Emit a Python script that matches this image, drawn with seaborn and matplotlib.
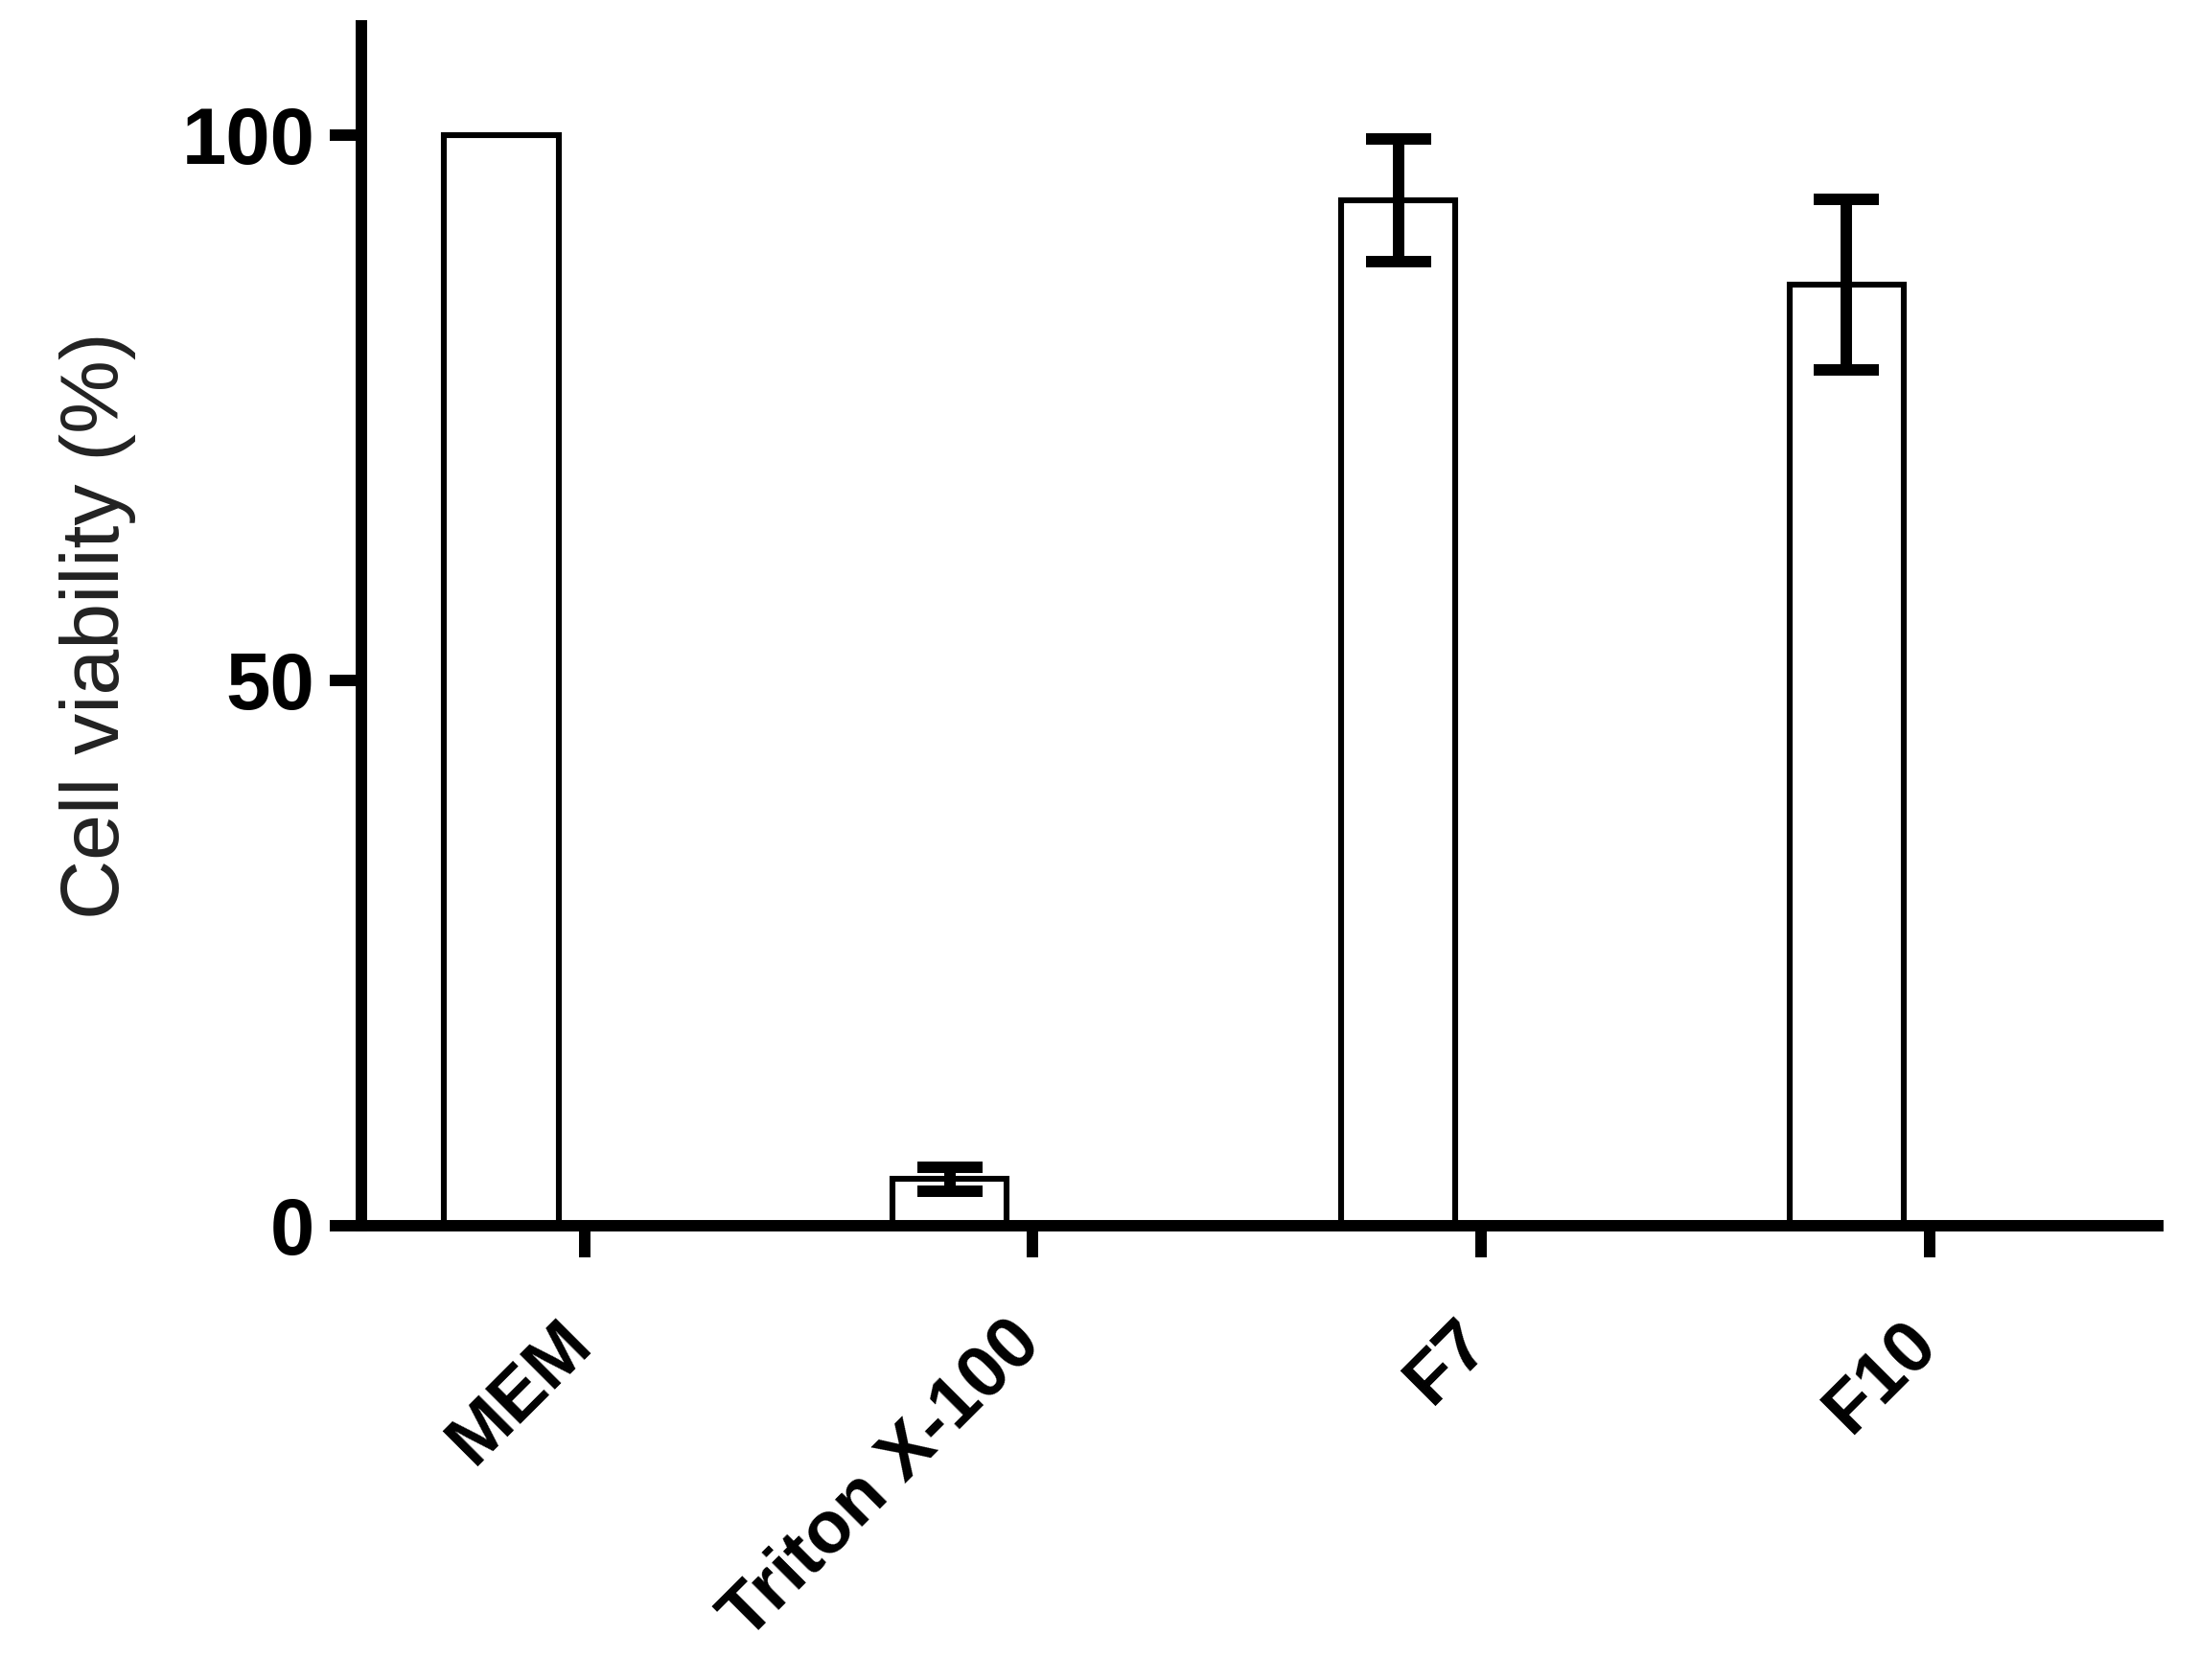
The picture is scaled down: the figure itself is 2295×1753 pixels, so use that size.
import numpy as np
import pandas as pd
import matplotlib
matplotlib.use("Agg")
import matplotlib.pyplot as plt
import matplotlib.transforms as mtransforms
import seaborn as sns

# ---- data ----
categories = ["MEM", "Triton X-100", "F7", "F10"]
viability = [100.0, 4.3, 94.0, 86.3]
errors = [0.0, 1.1, 5.6, 7.8]
y_ticks = [0, 50, 100]
y_label = "Cell viability (%)"

df = pd.DataFrame({"group": categories, "viability": viability})

sns.set_theme(style="ticks")
plt.rcParams["font.family"] = ["Liberation Sans", "DejaVu Sans"]

fig = plt.figure(figsize=(22.95, 17.53), dpi=100)
ax = fig.add_axes([0.1643, 0.2704, 0.9808 - 0.1643, 0.9846 - 0.2704])

sns.barplot(data=df, x="group", y="viability", order=categories,
            color="white", edgecolor="black", linewidth=4.4,
            width=0.255, errorbar=None, ax=ax)

# error bars (only where an error exists)
err_cats = [c for c, e in zip(categories, errors) if e > 0]
err_vals = [v for v, e in zip(viability, errors) if e > 0]
err_err = [e for e in errors if e > 0]
ax.errorbar(err_cats, err_vals, yerr=err_err, fmt="none", ecolor="black",
            elinewidth=8.6, capsize=24.5, capthick=8.6, zorder=5)

ax.set_xlim(-0.312, 3.694)
ax.set_ylim(0, 110)
ax.set_yticks(y_ticks)
ax.set_yticklabels([str(t) for t in y_ticks], fontsize=60, fontweight="bold")

ax.set_xticks(np.arange(len(categories)) + 0.185)
ax.set_xticklabels(categories, fontsize=55, fontweight="bold",
                   rotation=45, ha="right", va="top")

ax.set_xlabel("")
ax.set_ylabel(y_label, fontsize=62, color="#222222", labelpad=34)

for side in ["top", "right"]:
    ax.spines[side].set_visible(False)
for side in ["left", "bottom"]:
    ax.spines[side].set_linewidth(8.6)
    ax.spines[side].set_color("black")

ax.tick_params(axis="y", length=24, width=8.6, pad=11, colors="black")
ax.tick_params(axis="x", length=24, width=8.6, pad=38, colors="black")

# shift rotated labels slightly to the right (after tick_params)
offset = mtransforms.ScaledTranslation(22 / 100, 0, fig.dpi_scale_trans)
for lbl in ax.get_xticklabels():
    lbl.set_transform(lbl.get_transform() + offset)

fig.savefig("out.png", dpi=100, facecolor="white")
